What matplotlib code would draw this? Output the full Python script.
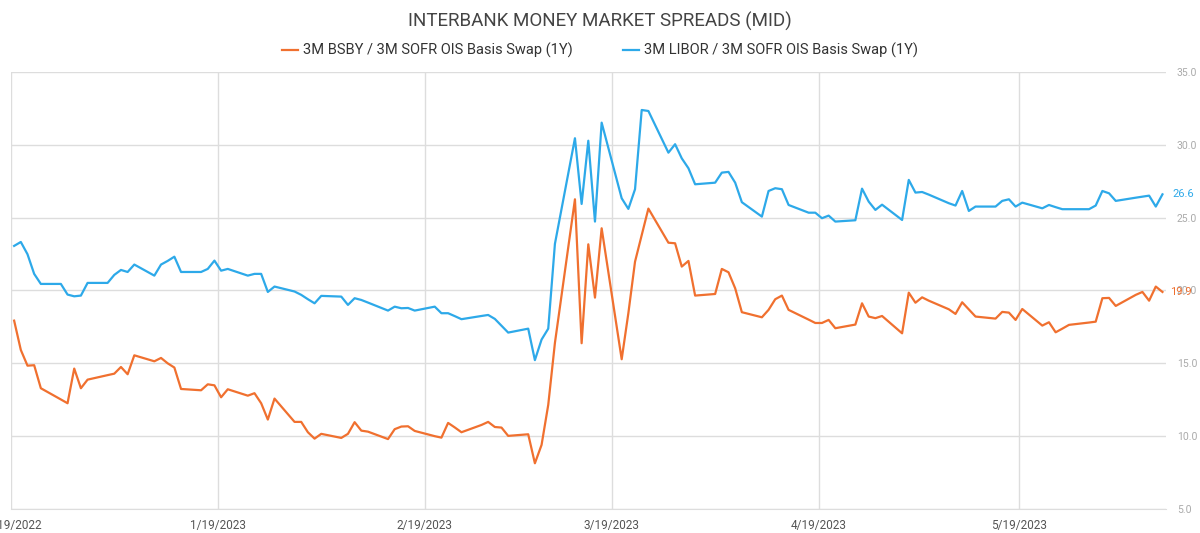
import pandas as pd
import matplotlib
matplotlib.use("Agg")
import matplotlib.pyplot as plt

plt.rcParams['font.family'] = ['Roboto', 'DejaVu Sans']

# business days 12/19/2022 - 6/9/2023
dates = pd.bdate_range('2022-12-19', '2023-06-09')

libor = [
    23.06, 23.33, 22.49, 21.14, 20.45,
    20.45, 19.72, 19.60, 19.65, 20.52,
    20.52, 21.07, 21.41, 21.27, 21.78,
    21.02, 21.78, 22.03, 22.32, 21.27,
    21.27, 21.48, 22.05, 21.36, 21.48,
    21.02, 21.14, 21.14, 19.90, 20.27,
    19.93, 19.70, 19.40, 19.12, 19.63,
    19.58, 19.01, 19.47, 19.35, 19.17,
    18.62, 18.89, 18.78, 18.80, 18.62,
    18.89, 18.44, 18.44, 18.24, 18.03,
    18.25, 18.32, 18.05, 17.58, 17.11,
    17.38, 15.22, 16.63, 17.38, 23.20,
    30.45, 25.94, 30.28, 24.73, 31.52,
    26.33, 25.60, 26.95, 32.39, 32.32,
    29.46, 30.04, 29.07, 28.39, 27.29,
    27.40, 28.09, 28.14, 27.40, 26.06,
    25.07, 26.83, 27.02, 26.95, 25.87,
    25.34, 25.34, 24.96, 25.14, 24.73,
    24.82, 26.99, 26.10, 25.53, 25.89,
    24.84, 27.59, 26.72, 26.76, 26.58,
    25.99, 25.83, 26.83, 25.46, 25.76,
    25.76, 26.15, 26.26, 25.76, 26.03,
    25.64, 25.87, 25.72, 25.58, 25.58,
    25.58, 25.83, 26.83, 26.67, 26.15,
    26.37, 26.44, 26.51, 25.76, 26.60,
]

bsby = [
    17.93, 15.92, 14.84, 14.87, 13.29,
    12.52, 12.26, 14.64, 13.29, 13.88,
    14.19, 14.29, 14.75, 14.25, 15.55,
    15.14, 15.37, 15.00, 14.71, 13.24,
    13.15, 13.56, 13.49, 12.67, 13.22,
    12.78, 12.95, 12.26, 11.14, 12.58,
    10.98, 10.98, 10.27, 9.83, 10.16,
    9.88, 10.16, 10.96, 10.38, 10.31,
    9.80, 10.48, 10.66, 10.68, 10.36,
    10.00, 9.90, 10.91, 10.60, 10.27,
    10.77, 10.98, 10.63, 10.59, 10.02,
    10.13, 8.14, 9.40, 12.15, 16.40,
    26.26, 16.38, 23.17, 19.51, 24.27,
    15.28, 18.44, 21.98, 23.80, 25.62,
    23.28, 23.24, 21.64, 22.03, 19.65,
    19.76, 21.48, 21.25, 20.15, 18.51,
    18.16, 18.67, 19.40, 19.65, 18.67,
    18.00, 17.77, 17.77, 17.98, 17.41,
    17.66, 19.12, 18.21, 18.10, 18.25,
    17.06, 19.85, 19.16, 19.53, 19.30,
    18.71, 18.39, 19.19, 18.70, 18.21,
    18.07, 18.53, 18.48, 17.98, 18.73,
    17.59, 17.82, 17.13, 17.38, 17.64,
    17.80, 17.86, 19.47, 19.49, 18.94,
    19.70, 19.90, 19.30, 20.27, 19.90,
]

tick_dates = ['2022-12-19', '2023-01-19', '2023-02-19', '2023-03-19', '2023-04-19', '2023-05-19']
tick_labels = ['12/19/2022', '1/19/2023', '2/19/2023', '3/19/2023', '4/19/2023', '5/19/2023']
y_ticks = [5, 10, 15, 20, 25, 30, 35]

orange = '#F0702F'
blue = '#2DA9E9'

# points sit at mid-day, gridlines at the start of the day
x = dates + pd.Timedelta(hours=12)

fig = plt.figure(figsize=(12, 5.33), dpi=100)
ax = fig.add_axes([0.009, 0.045, 0.9625, 0.82])

ax.plot(x, bsby, color=orange, lw=1.6, label='3M BSBY / 3M SOFR OIS Basis Swap (1Y)')
ax.plot(x, libor, color=blue, lw=1.6, label='3M LIBOR / 3M SOFR OIS Basis Swap (1Y)')

ax.set_ylim(5, 35)
ax.set_yticks(y_ticks)
ax.set_yticklabels([f'{v:.1f}' for v in y_ticks])
ax.yaxis.tick_right()
ax.tick_params(axis='y', length=0, pad=8, labelsize=7.5, labelcolor='#aaaaaa')

ax.set_xlim(pd.Timestamp('2022-12-19'), pd.Timestamp('2023-06-10'))
ax.set_xticks(pd.to_datetime(tick_dates))
ax.set_xticklabels(tick_labels)
ax.tick_params(axis='x', length=0, pad=7, labelsize=8.5, labelcolor='#555555')

ax.grid(True, color='#dddddd', lw=1)
for s in ['top', 'left', 'right']:
    ax.spines[s].set_visible(False)
ax.spines['bottom'].set_color('#dddddd')

# last value labels
ax.annotate(f'{libor[-1]:.1f}', (x[-1], libor[-1]), xytext=(10, 0), textcoords='offset pixels',
            va='center', ha='left', fontsize=8, color=blue, annotation_clip=False)
ax.annotate(f'{bsby[-1]:.1f}', (x[-1], bsby[-1]), xytext=(8, 0), textcoords='offset pixels',
            va='center', ha='left', fontsize=8, color=orange, annotation_clip=False)

fig.suptitle('INTERBANK MONEY MARKET SPREADS (MID)', y=0.977, fontsize=13.5, color='#444444')
fig.legend(loc='upper center', bbox_to_anchor=(0.5, 0.944), ncol=2, frameon=False,
           fontsize=10.5, handlelength=1.1, handletextpad=0.3, columnspacing=3.5,
           labelcolor='#333333')

fig.savefig('out.png', dpi=100)
